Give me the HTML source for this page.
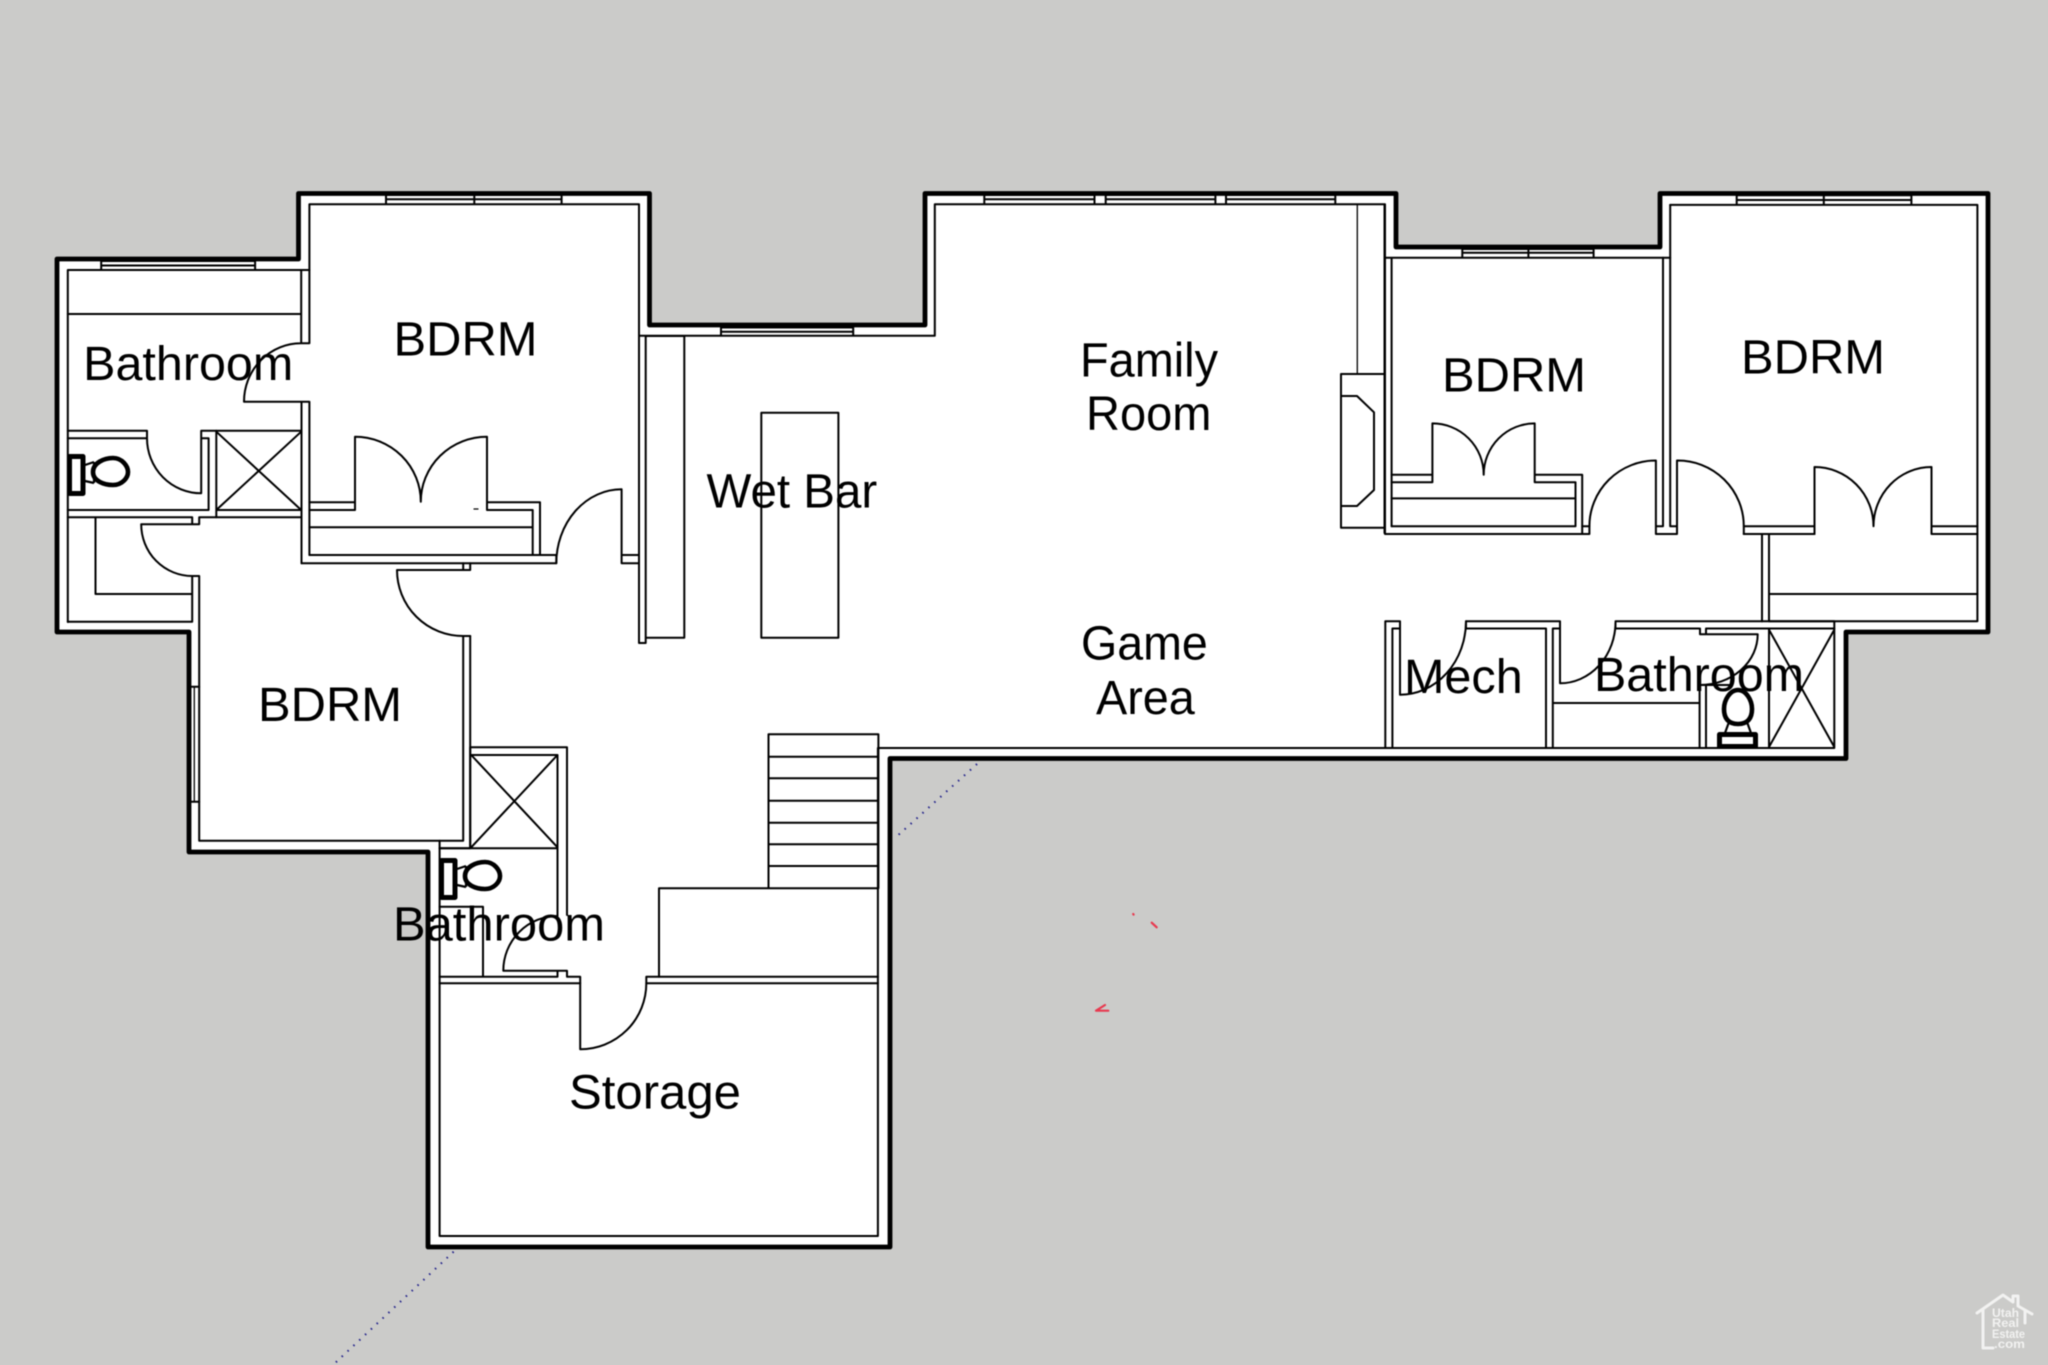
<!DOCTYPE html>
<html lang="en">
<head>
<meta charset="utf-8">
<title>Floor plan</title>
<style>
html,body{margin:0;padding:0;background:#cbcbc9;width:2048px;height:1365px;overflow:hidden}
svg{display:block;position:absolute;left:0;top:0;filter:blur(0.4px)}
text{font-family:"Liberation Sans",Arial,sans-serif;font-size:48px;fill:#000}
</style>
</head>
<body>
<svg width="2048" height="1365" viewBox="0 0 2048 1365" xmlns="http://www.w3.org/2000/svg">
<rect width="2048" height="1365" fill="#cbcbc9"/>

<!-- outer wall -->
<path d="M57,259 L298.5,259 L298.5,193.5 L649.5,193.5 L649.5,325 L925,325 L925,193.5 L1396,193.5 L1396,247 L1660,247 L1660,193.5 L1988,193.5 L1988,632 L1846,632 L1846,758.5 L890,758.5 L890,1247 L428,1247 L428,852 L189,852 L189,632 L57,632 Z" fill="#fff" stroke="#000" stroke-width="4.8" stroke-linejoin="round"/>

<!-- thin lines -->
<g fill="none" stroke="#000" stroke-width="2" stroke-linecap="round" stroke-linejoin="round">
<!-- NW bath + BDRM 1 -->
<path d="M67.8,622 V270 H309.4 V204.3 H639 V643 H645.7 V336 H684.3 V637.7 H645.7"/>
<path d="M101.2,261 V270 M255.1,261 V270 M101.2,261 H255.1 M101.2,265.5 H255.1"/>
<path d="M386,195 V204 M561.6,195 V204 M474.3,195 V204 M386,195 H561.6 M386,199.3 H561.6"/>
<path d="M67.8,314 H301.2 M301.2,270 V343.3 H309.4 V270 M301.2,343.3 A57 58.4 0 0 0 244,401.7 H309.4 V555 M301.5,401.7 V563.3"/>
<path d="M67.8,430.7 H147 V438.3 H67.8 M147,438.3 A54.2 55 0 0 0 201.2,493.3 V430.7 H301.2 M201.2,438.3 H208.6 V510 H67.8"/>
<path d="M216.3,430.7 V517.3 M216.3,510 H301.5 M216.3,431.7 L301.2,510 M301.2,431.7 L216.3,510"/>
<path d="M67.8,517.3 H192.2 V524.3 M141.2,524.3 H199.2 V517.3 H301.5 M141.2,524.3 A51 51.7 0 0 0 192.2,576 H199.2 V840.7 H463.2 V636 H470.2 V848.3 H439.6 M192.2,576 V621.7 H67.8 M95.5,517.3 V594 H192.2"/>
<path d="M301.5,563.3 H556.3 V555 H309.4 M309.4,527.3 H532.7 M532.7,510 V555 M540,502.3 V555 M309.4,502.3 H355 V436.7 M309.4,510 H355 V502.3 M355,436.7 A65.8 65 0 0 1 420.8,501.7 A66.2 65 0 0 1 487,436.7 V510 H532.7 M487,502.3 H540"/>
<path d="M474,509 H478" stroke-width="1.2"/>
<path d="M621.6,489.3 A65.3 74 0 0 0 556.3,563.3 M621.6,489.3 V563.3 H639 M621.6,555 H639"/>
<path d="M463.2,563.3 V570 M470.2,563.3 V570 M397,570 H470.2 M397,570 A66 66 0 0 0 463.2,636 H470.2"/>
<!-- window in W BDRM -->
<path d="M190.7,686.7 H199.2 M190.7,801.7 H199.2"/>
<path d="M190.7,686.7 V801.7 M194.3,686.7 V801.7" stroke-width="1.3"/>

<!-- wet bar -->
<path d="M639,335.7 H934.8 V204.3 H1384.5 V533 M721,327 V335.7 M853.2,327 V335.7 M721,327.5 H853.2 M721,331.7 H853.2"/>
<path d="M761.3,412.7 H838.4 V637.7 H761.3 Z"/>
<!-- family room windows -->
<path d="M984.3,195 V204 M1094.5,195 V204 M984.3,195 H1094.5 M984.3,199.3 H1094.5"/>
<path d="M1105.7,195 V204 M1215.4,195 V204 M1105.7,195 H1215.4 M1105.7,199.3 H1215.4"/>
<path d="M1226,195 V204 M1335.3,195 V204 M1226,195 H1335.3 M1226,199.3 H1335.3"/>
<!-- fireplace -->
<path d="M1357.3,204.3 V374" stroke-width="1.3"/>
<path d="M1341,374 H1384.5 M1341,374 V527.7 H1384.5 M1341,396 H1357 L1374,412.3 V490 L1357,506 H1341"/>

<!-- BDRM 2 -->
<path d="M1385,204.3 V534 H1589.4 V526.3 M1391.6,526.3 V257.7 M1385,257.7 H1670.2 M1462.3,249 V257 M1593.6,249 V257 M1528.4,249 V257 M1462.3,249 H1593.6 M1462.3,252.8 H1593.6"/>
<path d="M1391.6,526.3 H1575.5 V482.3 H1534.7 V423.4 M1534.7,474.7 H1582.2 V534 M1391.6,474.7 H1432.4 V423.4 M1391.6,482.3 H1432.4 V474.7 M1391.6,498.4 H1575.5 M1432.4,423.4 A51.3 51.3 0 0 1 1483.7,474.7 A51 51.3 0 0 1 1534.7,423.4"/>
<path d="M1582.2,526.3 H1589.4 A66.5 65.8 0 0 1 1655.9,460.5 V534 H1677 V460.5 A66 65.8 0 0 1 1743.8,526.3 V534 M1655.9,526.3 H1663 V257.7 M1670.2,526.3 V204.9 M1670.2,526.3 H1677"/>

<!-- BDRM 3 -->
<path d="M1670.2,204.9 H1977.4 V621.3 H1769 V534 M1736.7,195.3 V204 M1911.4,195.3 V204 M1823.8,195.3 V204 M1736.7,195.3 H1911.4 M1736.7,200 H1911.4"/>
<path d="M1743.8,526.3 H1814.5 V467 A59 59.3 0 0 1 1873.5,526.3 A58 59.3 0 0 1 1931.5,467 V534 H1977.4 M1931.5,526.3 H1977.4 M1743.8,534 H1814.5 V526.3"/>
<path d="M1762,534 V621.3 M1743.8,534 H1762 M1769,534 H1814.5 M1769,594 H1977.4"/>

<!-- south hall: mech + SE bath -->
<path d="M1385.3,747 V621.3 H1400 V694.7 A66 73.4 0 0 0 1466,621.3 M1392.4,747 V628.5 H1400"/>
<path d="M1466,621.3 H1560 V683.3 A55.5 61.3 0 0 0 1615.5,622 V628.5 H1698.8 M1466,621.3 V628.5 H1546 V747 M1552.8,747 V628.5 H1560 M1615.5,621.3 H1762"/>
<path d="M1553,703 H1698.8 M1699.6,747 V685 H1730 M1706,747 V685"/>
<path d="M1700,628.5 V634.3 H1706 V628.5 H1834.3 M1707,634.3 H1757.7 A57.7 50.7 0 0 1 1700,685"/>
<path d="M1762,621.3 H1834.3 V747 M1769,628.5 V747 M1769,629.7 L1834.3,747 M1834.3,629.7 L1769,747"/>
<path d="M878.4,748 H1834.3"/>

<!-- west lower bath + storage -->
<path d="M439.6,840.7 V1236 H877.9 V748"/>
<path d="M439.6,848.3 H557.5 M470.2,848.3 V747.3 H567 V915 M471.2,755 H557.5 V916 A54.2 54.7 0 0 0 503.3,970.7 H567 V976.7 H580.2 V1049.3 A66.1 66 0 0 0 646.3,983.3 V976.7 H878 M471.2,755 L557.5,847.3 M557.5,755 L471.2,847.3"/>
<path d="M439.6,906.7 H483 V976.7 M439.6,976.7 H557.5 V971 M439.6,983.3 H580.2 M646.3,983.3 H878"/>
<!-- stairs -->
<path d="M878.4,734.3 H768.5 V888.3 M878.4,734.3 V888.3 M768.5,756.7 H878.4 M768.5,778.3 H878.4 M768.5,800.7 H878.4 M768.5,822.7 H878.4 M768.5,844.3 H878.4 M768.5,866 H878.4 M659,976.7 V888.3 H878.4"/>
</g>

<!-- toilets -->
<g fill="#fff" stroke="#000" stroke-linejoin="round">
  <g id="t1">
    <path d="M85,465 L94,462 M85,481 L94,483 M94,462 V483" fill="none" stroke-width="2.2"/>
    <path d="M93,472 C93,463 104,458 113,458 C122,458 128,466 128,472 C128,478 122,485 113,485 C104,485 93,481 93,472 Z" stroke-width="4.6"/>
    <rect x="69.5" y="456.5" width="13.5" height="37" stroke-width="5"/>
  </g>
  <g transform="translate(372,404)">
    <path d="M85,465 L94,462 M85,481 L94,483 M94,462 V483" fill="none" stroke-width="2.2"/>
    <path d="M93,472 C93,463 104,458 113,458 C122,458 128,466 128,472 C128,478 122,485 113,485 C104,485 93,481 93,472 Z" stroke-width="4.6"/>
    <rect x="69.5" y="456.5" width="13.5" height="37" stroke-width="5"/>
  </g>
  <path d="M1729,722 L1725,733 M1747,722 L1751,733 M1729,722 H1747" fill="none" stroke-width="2.2"/>
  <path d="M1738,690 C1746,690 1752,700 1752,709 C1752,718 1748,724 1738,724 C1728,724 1724,718 1724,709 C1724,700 1730,690 1738,690 Z" stroke-width="4.6"/>
  <rect x="1719.5" y="734.5" width="36" height="12" stroke-width="5"/>
</g>

<!-- dotted guide lines -->
<g fill="none" stroke="#22228a" stroke-width="2" stroke-dasharray="1.5 6.5" stroke-linecap="butt">
  <path d="M977,764 L895,838"/>
  <path d="M453.6,1251.7 L333,1365"/>
</g>

<!-- red marks -->
<g fill="none" stroke="#e8394f" stroke-width="2.2" stroke-linecap="round" stroke-linejoin="round">
  <path d="M1133.2,914 L1133.6,914.6"/>
  <path d="M1151.7,922.7 L1156.7,927.3"/>
  <path d="M1105,1005 L1096,1010.7 H1108.3"/>
</g>

<!-- labels -->
<text x="83.2" y="380" textLength="210" lengthAdjust="spacingAndGlyphs">Bathroom</text>
<text x="393.5" y="355.7" textLength="144" lengthAdjust="spacingAndGlyphs">BDRM</text>
<text x="1080" y="376.7" textLength="138" lengthAdjust="spacingAndGlyphs">Family</text>
<text x="1086" y="430" textLength="125.4" lengthAdjust="spacingAndGlyphs">Room</text>
<text x="706.5" y="507.7" textLength="170.7" lengthAdjust="spacingAndGlyphs">Wet Bar</text>
<text x="1081" y="659.3" textLength="126.8" lengthAdjust="spacingAndGlyphs">Game</text>
<text x="1096" y="714" textLength="98.8" lengthAdjust="spacingAndGlyphs">Area</text>
<text x="1442" y="391.6" textLength="144" lengthAdjust="spacingAndGlyphs">BDRM</text>
<text x="1741" y="373.3" textLength="144" lengthAdjust="spacingAndGlyphs">BDRM</text>
<text x="1404" y="692.8" textLength="118.7" lengthAdjust="spacingAndGlyphs">Mech</text>
<text x="1594" y="691" textLength="210" lengthAdjust="spacingAndGlyphs">Bathroom</text>
<text x="258" y="721" textLength="144" lengthAdjust="spacingAndGlyphs">BDRM</text>
<text x="393" y="940.7" textLength="212" lengthAdjust="spacingAndGlyphs">Bathroom</text>
<text x="569" y="1108.3" textLength="172" lengthAdjust="spacingAndGlyphs">Storage</text>

<!-- logo -->
<g fill="none" stroke="#f2f2f1" stroke-width="3" stroke-linejoin="round" stroke-linecap="round">
  <path d="M1977,1313 L2003,1295 L2013,1302 V1296 H2018 V1306 L2032,1314 M1983,1310 V1348 H1993 M2025,1311 V1323"/>
</g>
<text x="1992" y="1317" style="font-size:12px;font-weight:bold;fill:#f2f2f1" textLength="27" lengthAdjust="spacingAndGlyphs">Utah</text>
<text x="1992" y="1327" style="font-size:12px;font-weight:bold;fill:#f2f2f1" textLength="27" lengthAdjust="spacingAndGlyphs">Real</text>
<text x="1992" y="1338" style="font-size:12px;font-weight:bold;fill:#f2f2f1" textLength="33" lengthAdjust="spacingAndGlyphs">Estate</text>
<text x="1994" y="1348" style="font-size:12px;font-weight:bold;fill:#f2f2f1" textLength="31" lengthAdjust="spacingAndGlyphs">.com</text>
</svg>
</body>
</html>
